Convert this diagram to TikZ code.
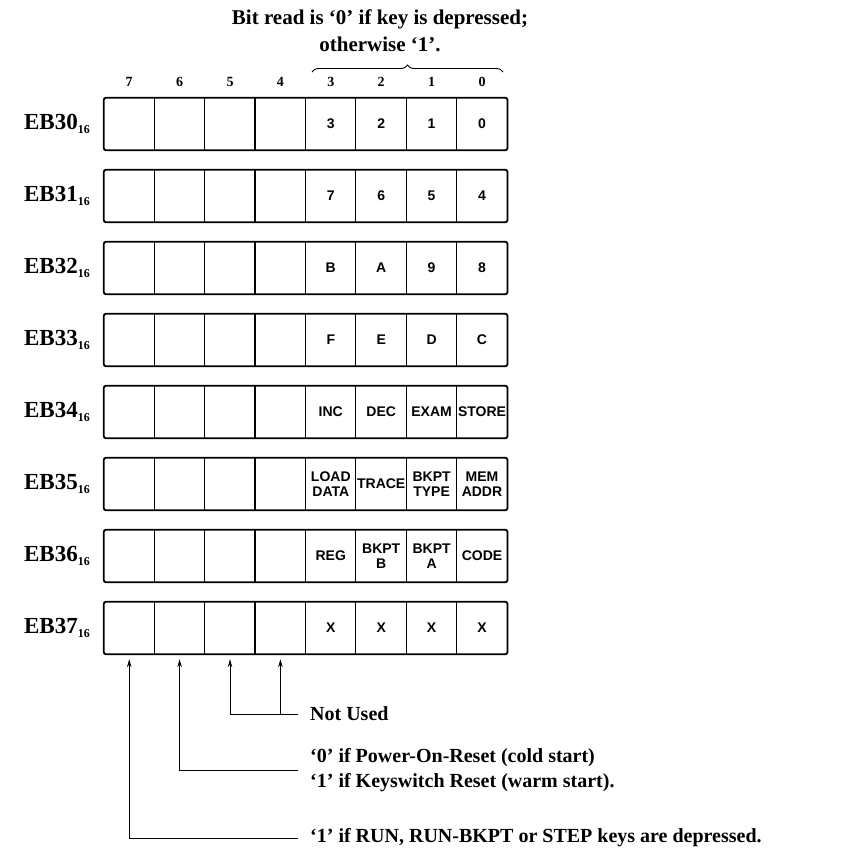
\documentclass[tikz,border=0pt]{standalone}
\usepackage{fontspec}
\setmainfont{Liberation Serif}
\setsansfont{Liberation Sans}
\usetikzlibrary{arrows.meta,positioning,calc,decorations.pathreplacing}

\newcommand{\hexsub}{\raisebox{-4pt}{\fontsize{12}{12}\selectfont 16}}

\begin{document}
\begin{tikzpicture}[x=1pt, y=-1pt,
  every node/.style={inner sep=0pt},
  title/.style={font=\fontsize{21}{27}\selectfont\bfseries, align=center},
  note/.style={font=\fontsize{20}{25}\selectfont\bfseries, align=left, anchor=west},
  bitno/.style={font=\fontsize{14}{14}\selectfont\bfseries},
  reg/.style={font=\fontsize{23}{23}\selectfont\bfseries, anchor=east},
  cell/.style={minimum width=50.4pt, minimum height=52pt},
  key/.style={font=\fontsize{14}{15}\selectfont\sffamily\bfseries, align=center},
  outer/.style={line width=1.8pt, rounded corners=2pt},
  arr/.style={-{Stealth[length=8pt,width=4.5pt]}, line width=1pt, shorten >=5pt}]
  \useasboundingbox (0,0) rectangle (863,855);

  % heading and bit numbers
  \node[title] (head) at (380,31) {Bit read is ‘0’ if key is depressed;\\otherwise ‘1’.};
  \foreach \b in {0,...,7}
    \node[bitno] (n\b) at ({129.2+50.4*(7-\b)},82) {\b};
  \draw[decorate, decoration={brace, amplitude=7pt}, line width=0.9pt] (312,72) -- (503,72);

  % the eight key rows
  \foreach \row/\cells [count=\r from 0] in {
      30/{3,2,1,0}, 31/{7,6,5,4}, 32/{B,A,9,8}, 33/{F,E,D,C},
      34/{INC,DEC,EXAM,STORE},
      35/{{LOAD\\DATA},TRACE,{BKPT\\TYPE},{MEM\\ADDR}},
      36/{REG,{BKPT\\B},{BKPT\\A},CODE},
      37/{X,X,X,X}} {
    \node[reg] (lab\r) at (90,{124+72*\r}) {EB\row\hexsub};
    \foreach \b in {0,...,7}
      \node[cell] (c\r\b) at ({129.2+50.4*(7-\b)},{124+72*\r}) {};
    \foreach \t [count=\k from 0] in \cells {
      \pgfmathtruncatemacro\bb{3-\k}
      \node[key] (t\r\bb) at (c\r\bb) {\t};
    }
    \foreach \b in {0,...,6}
      \draw[line width=1.2pt] (c\r\b.north west) -- (c\r\b.south west);
    \draw[outer] (c\r7.north west) rectangle (c\r0.south east);
  }

  % notes on bits 7..4
  \node[note] (nu) at (310,714) {Not Used};
  \node[note] (pwr) at (310,770) {‘0’ if Power-On-Reset (cold start)\\‘1’ if Keyswitch Reset (warm start).};
  \node[note] (run) at (310,838) {‘1’ if RUN, RUN-BKPT or STEP keys are depressed.};
  \coordinate[left=12pt of nu.west] (nuend);
  \coordinate[left=12pt of pwr.west] (pwrend);
  \coordinate[left=12pt of run.west] (runend);
  \draw[arr] (nuend) -| (c75.south);
  \draw[arr] (c74.south |- nuend) -- (c74.south);
  \draw[arr] (pwrend) -| (c76.south);
  \draw[arr] (runend) -| (c77.south);
\end{tikzpicture}
\end{document}
